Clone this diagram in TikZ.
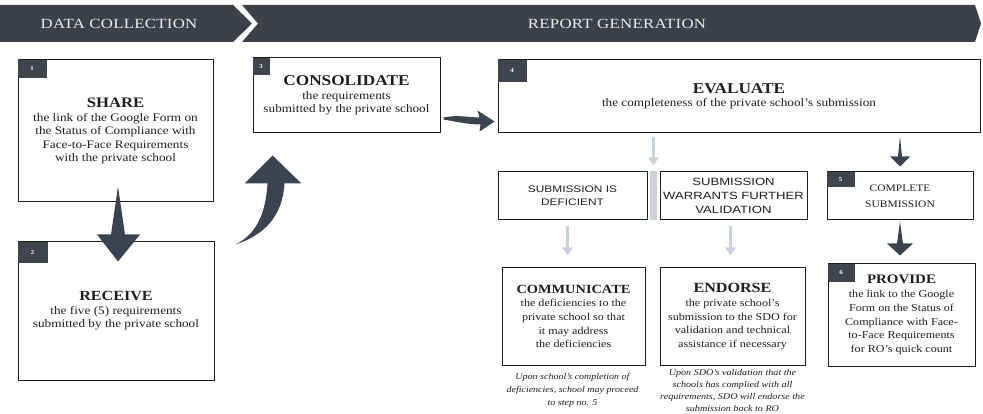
\documentclass[tikz,border=0pt]{standalone}
\usepackage{fontspec}
\setmainfont{Liberation Serif}[FakeStretch=1.15]
\newfontfamily\sansf{Liberation Sans}[FakeStretch=1.25]
\newfontfamily\hdrfont{Liberation Serif}[FakeStretch=1.2,LetterSpace=2]
\usetikzlibrary{calc,arrows.meta}
\definecolor{band}{HTML}{3C4048}
\definecolor{tagc}{HTML}{3F454C}
\definecolor{arr}{HTML}{3A4350}
\definecolor{larr}{HTML}{C9D1DB}
\definecolor{ink}{HTML}{1E1E1E}
\newcommand{\bxtitle}[2]{{\fontsize{#1}{#1}\selectfont\bfseries #2}}
\tikzset{
  box/.style={draw=ink, line width=1pt, inner sep=2pt, align=center, text=ink,
    font=\fontsize{11.5}{13.5}\selectfont},
  lowbox/.style={box, font=\fontsize{10.5}{13.7}\selectfont},
  sbox/.style={box, font=\fontsize{10.5}{14}\selectfont\sansf},
  tag/.style={fill=tagc, text=white, font=\fontsize{6}{6}\selectfont\bfseries,
    inner sep=0pt, anchor=north west},
  hdr/.style={text=white!92!black, font=\fontsize{14}{16}\selectfont\hdrfont},
  note/.style={align=center, text=ink, anchor=north},
  larrow/.style={draw=larr, line width=3.5pt, -{Triangle[width=10pt,length=8pt]}},
  darr/.style={fill=arr},
}
\begin{document}
\begin{tikzpicture}[x=1pt,y=-1pt]
\useasboundingbox (0,0) rectangle (983,414);
% header bands
\fill[band] (0,5) -- (233,5) -- (252,23.5) -- (233,42) -- (0,42) -- cycle;
\fill[band] (242,5) -- (975,5) -- (981,23.5) -- (975,42) -- (242,42) -- (258,23.5) -- cycle;
\node[hdr] (hdc) at (119,23.5) {DATA COLLECTION};
\node[hdr] (hrg) at (617,23.5) {REPORT GENERATION};

% boxes
\node[box, minimum width=195pt, minimum height=142pt] (share) at (115.5,131)
  {\bxtitle{14.5}{SHARE}\\ the link of the Google Form on\\ the Status of Compliance with\\ Face-to-Face Requirements\\ with the private school};
\node[box, minimum width=196pt, minimum height=138pt] (recv) at (116,311)
  {\bxtitle{14}{RECEIVE}\\ the five (5) requirements\\ submitted by the private school};
\node[box, minimum width=187pt, minimum height=75pt] (cons) at (346.5,95.5)
  {\bxtitle{15}{CONSOLIDATE}\\ the requirements\\ submitted by the private school};
\node[box, minimum width=482pt, minimum height=73pt] (eval) at (739,96.5)
  {\bxtitle{15}{EVALUATE}\\ the completeness of the private school's submission};
\node[sbox, minimum width=149pt, minimum height=48pt, font=\fontsize{9.5}{13}\selectfont\sansf] (def) at (572.5,196)
  {SUBMISSION IS\\ DEFICIENT};
\node[sbox, minimum width=147pt, minimum height=48pt] (warr) at (733.5,196)
  {SUBMISSION\\ WARRANTS FURTHER\\ VALIDATION};
\node[box, minimum width=146pt, minimum height=48pt, font=\fontsize{10}{16}\selectfont] (cmpl) at (900,196)
  {COMPLETE\\ SUBMISSION};
\node[lowbox, minimum width=143pt, minimum height=97pt] (comm) at (573.5,316.5)
  {\bxtitle{12.5}{COMMUNICATE}\\ the deficiencies to the\\ private school so that\\ it may address\\ the deficiencies};
\node[lowbox, minimum width=145pt, minimum height=97pt] (endo) at (732.5,316.5)
  {\bxtitle{14}{ENDORSE}\\ the private school's\\ submission to the SDO for\\ validation and technical\\ assistance if necessary};
\node[lowbox, minimum width=147pt, minimum height=102pt] (prov) at (901.5,315)
  {\bxtitle{13}{PROVIDE}\\ the link to the Google\\ Form on the Status of\\ Compliance with Face-\\ to-Face Requirements\\ for RO's quick count};

% tags
\node[tag, minimum width=29pt, minimum height=18pt] (t1) at (share.north west) {1};
\node[tag, minimum width=30pt, minimum height=21pt] (t2) at (recv.north west) {2};
\node[tag, minimum width=17pt, minimum height=17pt] (t3) at (cons.north west) {3};
\node[tag, minimum width=29pt, minimum height=22pt] (t4) at (eval.north west) {4};
\node[tag, minimum width=28pt, minimum height=15pt] (t5) at (cmpl.north west) {5};
\node[tag, minimum width=27pt, minimum height=18pt] (t6) at (prov.north west) {6};

% notes
\node[note, font=\fontsize{8.7}{13}\selectfont\itshape] (n1) at ($(comm.south)+(-1,4)$)
  {Upon school's completion of\\ deficiencies, school may proceed\\ to step no. 5};
\node[note, font=\fontsize{8.8}{12.2}\selectfont\itshape] (n2) at ($(endo.south)+(0,0)$)
  {Upon SDO's validation that the\\ schools has complied with all\\ requirements, SDO will endorse the\\ submission back to RO};

% big down arrow 1 -> 2
\coordinate (a12) at ($(share.south)+(2.5,-16)$);
\coordinate (b12) at ($(recv.north)+(2,20)$);
\fill[darr] (a12) -- ($(b12)+(7,-27)$) -- ($(b12)+(22,-27)$) -- (b12)
  -- ($(b12)+(-21,-27)$) -- ($(b12)+(-7,-27)$) -- cycle;

% curved arrow 2 -> 3
\coordinate (ctail) at ($(recv.north east)+(21,3)$);
\coordinate (ctip) at ($(cons.south west)+(20,22)$);
\fill[darr] ($(ctip)+(-5,28)$) .. controls ($(ctip)+(-7,60)$) and ($(ctail)+(20,-10)$) .. (ctail)
  .. controls ($(ctail)+(30,-10)$) and ($(ctip)+(10,60)$) .. ($(ctip)+(12,28)$)
  -- ($(ctip)+(29,28)$) -- (ctip) -- ($(ctip)+(-28,28)$) -- cycle;

% small arrow 3 -> 4
\coordinate (stail) at ($(cons.east)+(3,22)$);
\coordinate (stip) at ($(eval.west)+(-3,25)$);
\fill[darr] (stail) .. controls ($(stail)+(15,-3)$) and ($(stip)+(-25,-4)$) .. ($(stip)+(-15,-4)$)
  -- ($(stip)+(-17,-11)$) -- (stip) -- ($(stip)+(-15,10)$) -- ($(stip)+(-14,3)$)
  .. controls ($(stip)+(-27,3)$) and ($(stail)+(12,4)$) .. ($(stail)+(0,2)$) -- cycle;

% dark arrow 4 -> 5
\coordinate (a45) at ($(eval.south -| cmpl.north)+(0,3)$);
\coordinate (b45) at ($(cmpl.north)+(0,-5)$);
\fill[darr] (a45) -- ($(b45)+(2,-10)$) -- ($(b45)+(10,-10)$) -- (b45)
  -- ($(b45)+(-10,-10)$) -- ($(b45)+(-2,-10)$) -- cycle;

% dark arrow 5 -> 6
\coordinate (a56) at ($(cmpl.south)+(0,1)$);
\coordinate (b56) at ($(prov.north)+(-1.5,-8)$);
\fill[darr] (a56) -- ($(b56)+(3,-12)$) -- ($(b56)+(13,-12)$) -- (b56)
  -- ($(b56)+(-13,-12)$) -- ($(b56)+(-3,-12)$) -- cycle;

% light arrows 4 -> split
\coordinate (split) at ($(def.north east)!0.5!(warr.north west)$);
\coordinate (splitb) at ($(def.south east)!0.5!(warr.south west)$);
\draw[larrow] ($(eval.south -| split)+(0,4)$) -- ($(split)+(0,-6)$);
\fill[larr] ($(split)+(-3.5,0)$) rectangle ($(splitb)+(3.5,0)$);
\draw[larrow] ($(def.south)+(-5,6)$) -- ($(def.south |- comm.north)+(-5,-12)$);
\draw[larrow] ($(warr.south)+(-3,6)$) -- ($(warr.south |- endo.north)+(-3,-12)$);
\end{tikzpicture}
\end{document}
